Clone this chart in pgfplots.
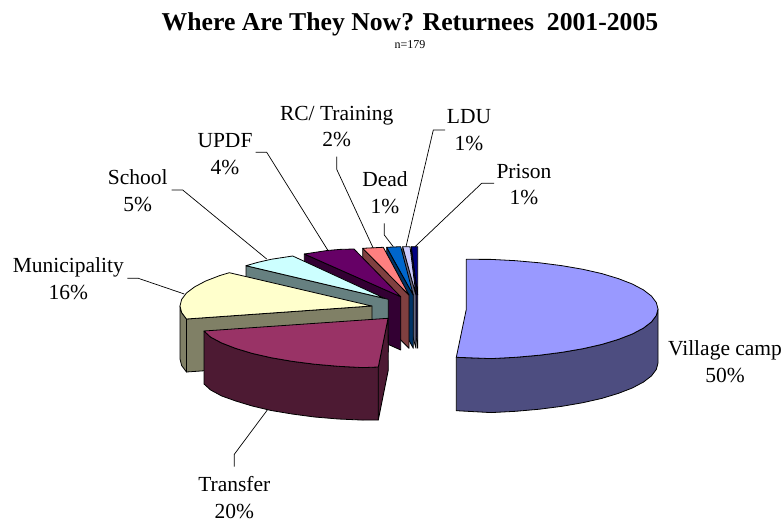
\documentclass[border=0pt]{standalone}
\usepackage{fontspec}
\setmainfont{Liberation Serif}
\usepackage{pgfplots}
\pgfplotsset{compat=1.18}
\definecolor{vT}{HTML}{9999FF}\definecolor{vS}{HTML}{4D4D80}
\definecolor{tT}{HTML}{993366}\definecolor{tS}{HTML}{4D1A33}
\definecolor{mT}{HTML}{FFFFCC}\definecolor{mS}{HTML}{808066}
\definecolor{sT}{HTML}{CCFFFF}\definecolor{sS}{HTML}{668080}
\definecolor{uT}{HTML}{660066}\definecolor{uS}{HTML}{330033}
\definecolor{rT}{HTML}{FF8080}\definecolor{rS}{HTML}{804040}
\definecolor{dT}{HTML}{0066CC}\definecolor{dS}{HTML}{003366}
\definecolor{lT}{HTML}{CCCCFF}\definecolor{lS}{HTML}{666680}
\definecolor{pT}{HTML}{000080}\definecolor{pS}{HTML}{000040}
\tikzset{
  lead/.style={draw=black,line width=0.7pt,fill=none},
  lab/.style={font=\fontsize{21.5}{26.8}\selectfont,align=center,inner sep=0pt},
}
\begin{document}
\begin{tikzpicture}
\useasboundingbox (0,0) rectangle (784pt,521pt);
\begin{axis}[
  width=784pt,height=521pt,scale only axis,
  xmin=0,xmax=784,ymin=0,ymax=521,y dir=reverse,
  hide axis,clip=false,
  every axis plot/.append style={draw=black,line width=0.8pt,mark=none,line join=round},
]
% Prison
\addplot[fill=pS] coordinates {(411.3,246.7)(417.7,295)(417.7,348.3)(411.3,300)} -- cycle;
\addplot[fill=pT] coordinates {(411.3,246.7)(417.7,246.7)(417.7,295)} -- cycle;
% LDU
\addplot[fill=lS] coordinates {(402.7,246.7)(416,295)(416,348.3)(402.7,300)} -- cycle;
\addplot[fill=lT] coordinates {(402.7,246.7)(410,246.7)(416,295)} -- cycle;
% Dead
\addplot[fill=dS] coordinates {(386.7,247.3)(413.3,295)(413.3,348.3)(386.7,300)} -- cycle;
\addplot[fill=dT] coordinates {(386.7,247.3)(400.7,246.7)(413.3,295)} -- cycle;
% RC / Training
\addplot[fill=rS] coordinates {(362.7,248.3)(409,295)(409,348.3)(362.7,302)} -- cycle;
\addplot[fill=rT] coordinates {(362.7,248.3)(383.3,247.3)(409,295)} -- cycle;
% UPDF
\addplot[fill=uS] coordinates {(304.3,254)(400.7,296.7)(400.7,350)(304.3,307)} -- cycle;
\addplot[fill=uT] coordinates {(304.3,254)(327.2,250.5)(340,249.4)(354,249)(400.7,296.7)} -- cycle;
% School
\addplot[fill=sS] coordinates {(246,265.7)(388.3,299.3)(388.3,352)(246,319)} -- cycle;
\addplot[fill=sT] coordinates {(246,265.7)(258,262.3)(271.1,259.3)(292.7,256)(385,298.5)} -- cycle;
% Municipality
\addplot[fill=mS] coordinates {(186.5,319)(372,306)(372,359)(186.5,372)} -- cycle;
\addplot[fill=mS] coordinates {(180,306)(181.6,312.5)(186.5,319)(186.5,372)(181.6,365.5)(180,359)} -- cycle;
\addplot[fill=mT] coordinates {(186.5,319)(181.6,312.5)(180,306)(181.6,299.5)(186.5,293)(194.6,286.9)(205.7,281)(219.7,275.6)(229.3,272.7)(371.7,306)} -- cycle;
% Transfer
\addplot[fill=tS] coordinates {(378.3,367)(388,318.3)(388.3,370)(378.3,420)} -- cycle;
\addplot[fill=tS] coordinates {(204,331)(210.6,337.1)(221.7,343)(235.7,348.4)(252.2,353.4)(271.1,357.7)(292,361.3)(314.5,364.2)(338.3,366.3)(362.9,367.6)(378.3,367)(378.3,420)(362.9,420.1)(338.3,419)(314.5,417)(292,414)(271.1,410.5)(252.2,406)(235.7,401)(221.7,396)(210.6,390)(204,384)} -- cycle;
\addplot[fill=tT] coordinates {(204,331)(210.6,337.1)(221.7,343)(235.7,348.4)(252.2,353.4)(271.1,357.7)(292,361.3)(314.5,364.2)(338.3,366.3)(362.9,367.6)(378.3,367)(388,318.3)} -- cycle;
% Village camp
\addplot[fill=vS] coordinates {(658,309)(656.3,315.5)(651.5,321.9)(643.4,328.1)(632.3,334)(618.3,339.4)(601.8,344.4)(582.9,348.7)(562,352.3)(539.5,355.2)(515.7,357.3)(491.1,358.6)(456.3,357.3)(456.3,410.7)(491.1,412.6)(515.7,411.3)(539.5,409.2)(562,406.3)(582.9,402.7)(601.8,398.4)(618.3,393.4)(632.3,388)(643.4,382.1)(651.5,375.9)(656.3,369.5)(658,363)} -- cycle;
\addplot[fill=vT] coordinates {(466.3,259.3)(491.1,259.4)(515.7,260.7)(539.5,262.8)(562,265.7)(582.9,269.3)(601.8,273.6)(618.3,278.6)(632.3,284)(643.4,289.9)(651.5,296.1)(656.3,302.5)(658,309)(656.3,315.5)(651.5,321.9)(643.4,328.1)(632.3,334)(618.3,339.4)(601.8,344.4)(582.9,348.7)(562,352.3)(539.5,355.2)(515.7,357.3)(491.1,358.6)(456.3,357.3)(466.3,309.3)} -- cycle;
% leader lines
\addplot[lead] coordinates {(171.7,190)(182.7,190)(266.7,259)};
\addplot[lead] coordinates {(255.7,152.3)(266.7,152.3)(328.3,251)};
\addplot[lead] coordinates {(336.7,156.7)(336.7,169.3)(373.3,248.3)};
\addplot[lead] coordinates {(384.3,223.3)(384.3,235)(393.3,246.7)};
\addplot[lead] coordinates {(445,130)(433.3,130)(406,246.7)};
\addplot[lead] coordinates {(494,183.3)(481.7,183.3)(415,246.7)};
\addplot[lead] coordinates {(127.3,278.3)(138.3,278.3)(184.3,294)};
\addplot[lead] coordinates {(267.3,410)(234.3,454.3)(234.3,466.7)};
% text
\node[inner sep=0pt,font=\fontsize{25.7}{30}\selectfont\bfseries] at (axis cs:410,24.5) {Where Are They Now? Returnees\ \ 2001-2005};
\node[inner sep=0pt,font=\fontsize{12}{14}\selectfont] at (axis cs:410,44.5) {n=179};
\node[lab] at (axis cs:336.7,126.5) {RC/ Training\\2\%};
\node[lab] at (axis cs:225,154) {UPDF\\4\%};
\node[lab] at (axis cs:137.7,191) {School\\5\%};
\node[lab] at (axis cs:385,193) {Dead\\1\%};
\node[lab] at (axis cs:469,130.5) {LDU\\1\%};
\node[lab] at (axis cs:524,184.5) {Prison\\1\%};
\node[lab] at (axis cs:68.3,278.5) {Municipality\\16\%};
\node[lab] at (axis cs:725,361.5) {Village camp\\50\%};
\node[lab] at (axis cs:234.3,497.5) {Transfer\\20\%};
\end{axis}
\end{tikzpicture}
\end{document}
